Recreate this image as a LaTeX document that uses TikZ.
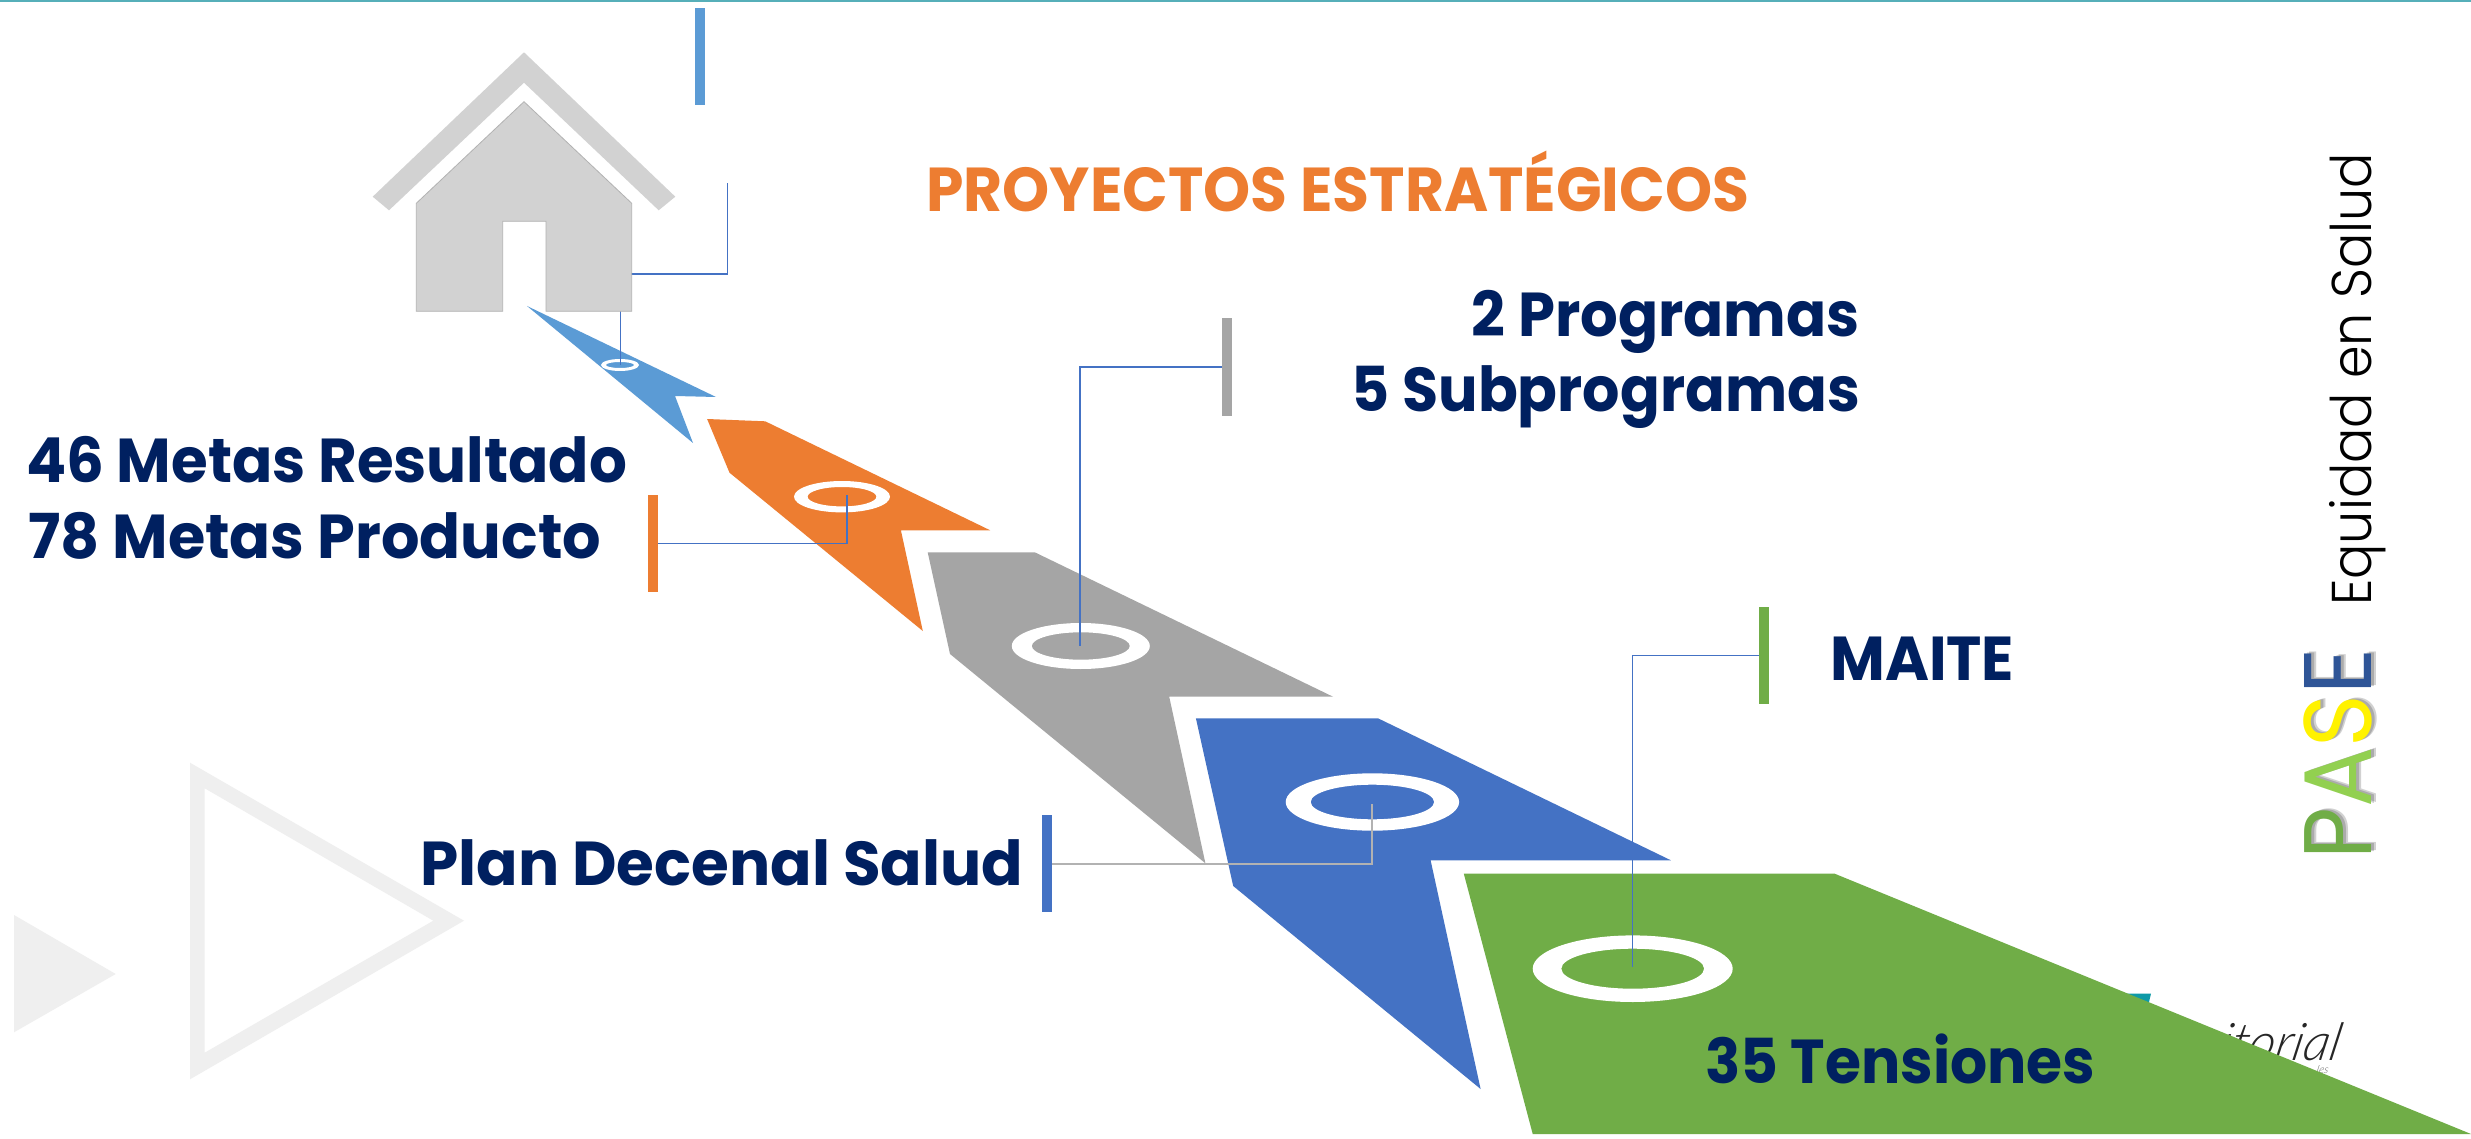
\documentclass[tikz,border=0pt]{standalone}
\usepackage{fontspec}
\newfontfamily\hd{Poppins}
\newfontfamily\thin{Poppins Light}
\newfontfamily\lt{Lato Light Italic}[FakeSlant=0.2]
\newcommand{\fitw}[2]{\resizebox{#1pt}{\height}{#2}}
\definecolor{navy}{HTML}{002060}
\definecolor{cblue}{HTML}{5B9BD5}
\definecolor{corange}{HTML}{ED7D31}
\definecolor{cgray}{HTML}{A5A5A5}
\definecolor{cdeep}{HTML}{4472C4}
\definecolor{cgreen}{HTML}{70AD47}
\definecolor{chouse}{HTML}{D2D2D2}
\definecolor{ctri}{HTML}{EFEFEF}
\definecolor{ctop}{HTML}{56AFB9}
\definecolor{clogo}{HTML}{0E9AA7}
\tikzset{
 lbl/.style={text=navy,font=\hd\bfseries\fontsize{62}{62}\selectfont,inner sep=0pt},
 leader/.style={draw=cdeep,line width=1.3pt},
 bar/.style={draw=none,minimum width=10pt,inner sep=0pt},
 ringo/.style={fill=white,draw=none,even odd rule},
 sidetxt/.style={anchor=base west,inner sep=0pt,rotate=90},
}
\begin{document}
\begin{tikzpicture}[x=1pt,y=-1pt]
\useasboundingbox (0,0) rectangle (2471,1139);
\fill[white] (0,0) rectangle (2471,1139);
\fill[ctop] (0,0) rectangle (2471,2);
% background triangles
\fill[ctri] (14,915) -- (115.7,974) -- (14,1032.3) -- cycle;
\fill[ctri,even odd rule] (190,762.7) -- (464,920.7) -- (190,1079.3) -- cycle (204.7,788.3) -- (433.3,920.7) -- (204.7,1052.7) -- cycle;
% logo behind the green shape
\fill[clogo] (2120,993.5) -- (2151,993.5) -- (2146,1015) -- (2120,1015) -- cycle;
\node[anchor=base west,inner sep=0pt,text=black!85,font=\lt\fontsize{52}{52}\selectfont] (logo) at (2218,1060) {itorial};
\node[anchor=base west,inner sep=0pt,text=black!60,font=\lt\fontsize{11}{11}\selectfont] (logo2) at (2316,1073) {les};
% step shapes
\fill[cblue] (527,306) -- (716,397) -- (675,396) -- (693,443) -- cycle;
\fill[ringo] (620,365) ellipse [x radius=19,y radius=6] (620,365) ellipse [x radius=14,y radius=3];
\coordinate (e1) at (620.3,365);
\coordinate (f1) at (727.3,183);
\draw[leader] (e1) -- (620.3,274) -- (727.3,274) -- (f1);
% house
\fill[chouse] (524,52.3) -- (675.3,196.7) -- (658.7,210.3) -- (524,82.7) -- (389,210.3) -- (372.7,196.7) -- cycle;
\filldraw[fill=chouse,draw=black!30,line width=0.8pt] (524,101.7) -- (631.7,203.3) -- (631.7,311.3) -- (546,311.3) -- (546,221.3) -- (502.7,221.3) -- (502.7,311.3) -- (416.3,311.3) -- (416.3,203.3) -- cycle;
\fill[corange] (707.1,419) -- (765.2,421.3) -- (990.2,530.3) -- (900.9,530.3) -- (922.8,631) -- (729.5,472.7) -- cycle;
\fill[cgray] (927.7,552.3) -- (1034.8,552.3) -- (1333,696.7) -- (1169.2,696.7) -- (1205.4,863.3) -- (950,654) -- cycle;
\fill[cdeep] (1195.9,718.3) -- (1378,718.3) -- (1670.9,860.3) -- (1430.6,860.3) -- (1480.6,1089) -- (1233.2,886) -- cycle;
\fill[cgreen] (1463.8,873.7) -- (1834.7,873.7) -- (2471,1134) -- (1532.7,1134) -- cycle;
% rings
\fill[ringo] (842,496.7) ellipse [x radius=48,y radius=15.7] (842,496.7) ellipse [x radius=34.4,y radius=9.7];
\fill[ringo] (1080.8,646) ellipse [x radius=69,y radius=23] (1080.8,646) ellipse [x radius=49,y radius=13.7];
\fill[ringo] (1372.4,802) ellipse [x radius=86.7,y radius=28.7] (1372.4,802) ellipse [x radius=61.7,y radius=17.3];
\fill[ringo] (1632.7,968.7) ellipse [x radius=100,y radius=33.3] (1632.7,968.7) ellipse [x radius=71.4,y radius=20];
% bars
\node[bar,fill=cblue,minimum height=97pt] (b1) at (700,56.5) {};
\node[bar,fill=corange,minimum height=97pt] (b2) at (653,543.3) {};
\node[bar,fill=cgray,minimum height=97pt] (b3) at (1227,367) {};
\node[bar,fill=cdeep,minimum height=97pt] (b4) at (1047,863.7) {};
\node[bar,fill=cgreen,minimum height=97pt] (b5) at (1764,655.7) {};
% leaders
\coordinate (e2) at (846.9,495);
\coordinate (e3) at (1080,645.7);
\coordinate (e4) at (1372,804);
\coordinate (e5) at (1632.7,966.7);
\draw[leader] (b2.east) -| (e2);
\draw[leader] (b3.west) -| (e3);
\draw[draw=black!30,line width=1.6pt] (b4.east) -| (e4);
\draw[leader] (b5.west) -| (e5);
% labels
\node[lbl,anchor=base west,text=corange] (title) at (926,212) {\fitw{823}{PROYECTOS ESTRATÉGICOS}};
\node[lbl,anchor=base east] (t1) at (1860,337) {\fitw{388}{2 Programas}};
\node[lbl,anchor=base east] (t2) at (1860,412) {\fitw{508}{5 Subprogramas}};
\node[lbl,anchor=base west] (t3) at (26,482) {\fitw{601}{46 Metas Resultado}};
\node[lbl,anchor=base west] (t4) at (28,558) {\fitw{573}{78 Metas Producto}};
\node[lbl,anchor=base west] (t5) at (420,885) {\fitw{603}{Plan Decenal Salud}};
\node[lbl,anchor=base west] (t6) at (1830,680) {\fitw{184}{MAITE}};
\node[lbl,anchor=base west] (t7) at (1705,1083) {\fitw{390}{35 Tensiones}};
% side title
\node[sidetxt,text=black,font=\thin\fontsize{56}{56}\selectfont] (eq) at (2371.7,606) {\fitw{453}{Equidad en Salud}};
\node[sidetxt,text=black,opacity=0.18,font=\hd\fontsize{96}{96}\selectfont] (pases1) at (2374.7,859) {\fitw{211}{PASE}};
\node[sidetxt,text=black,opacity=0.18,font=\hd\fontsize{96}{96}\selectfont] (pases2) at (2376.7,858) {\fitw{211}{PASE}};
\node[sidetxt,font=\hd\fontsize{96}{96}\selectfont] (pase) at (2371.7,860) {\fitw{211}{\textcolor{cgreen}{P}\textcolor[HTML]{92D050}{A}\textcolor{yellow}{S}\textcolor[HTML]{2F5597}{E}}};
\end{tikzpicture}
\end{document}
